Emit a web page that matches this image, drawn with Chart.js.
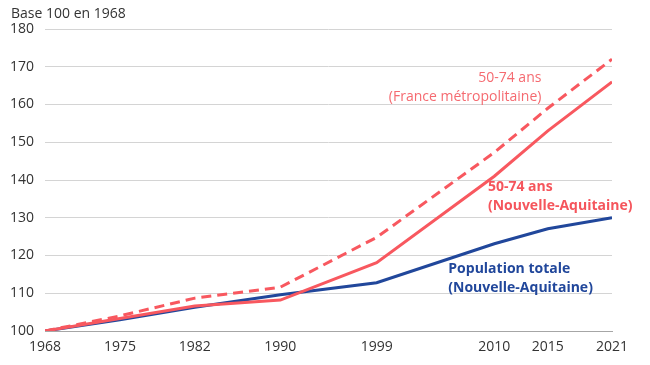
<!DOCTYPE html>
<html>
<head>
<meta charset="utf-8">
<script src="https://cdn.jsdelivr.net/npm/chart.js@4.4.1/dist/chart.umd.min.js"></script>
<style>
html,body{margin:0;padding:0;background:#fff;}
#wrap{width:650px;height:365px;position:relative;}
</style>
</head>
<body>
<div id="wrap"><canvas id="c" width="650" height="365"></canvas></div>
<script>
const years = [1968, 1975, 1982, 1990, 1999, 2010, 2015, 2021];
const popTotaleNA = [100, 103, 106.3, 109.6, 112.8, 123.1, 127.1, 130];
const age5074NA = [100, 103.3, 106.6, 108.2, 118.1, 141, 153, 166];
const age5074France = [100, 104, 108.7, 111.6, 124.8, 147.3, 159, 172];
const yTicks = [100, 110, 120, 130, 140, 150, 160, 170, 180];
const yTitle = 'Base 100 en 1968';
const annotations = [
  {x: 2014.4, y: 167.1, lines: ['50-74 ans', '(France métropolitaine)'], color: '#F56A70', bold: false, align: 'right'},
  {x: 2009.4, y: 138.2, lines: ['50-74 ans', '(Nouvelle-Aquitaine)'], color: '#F5555C', bold: true, align: 'left'},
  {x: 2005.7, y: 116.4, lines: ['Population totale', '(Nouvelle-Aquitaine)'], color: '#21479B', bold: true, align: 'left'}
];

const FONT = "'Open Sans', 'Noto Sans', sans-serif";

const labelPlugin = {
  id: 'labels',
  afterDraw(chart) {
    const ctx = chart.ctx;
    const xs = chart.scales.x, ys = chart.scales.y;
    ctx.save();
    ctx.font = '14px ' + FONT;
    ctx.fillStyle = '#333';
    ctx.textAlign = 'left';
    ctx.textBaseline = 'middle';
    ctx.fillText(yTitle, 11, 14);
    annotations.forEach(a => {
      ctx.font = (a.bold ? 'bold ' : '') + '14px ' + FONT;
      ctx.fillStyle = a.color;
      ctx.textAlign = a.align;
      const px = xs.getPixelForValue(a.x);
      const py = ys.getPixelForValue(a.y);
      a.lines.forEach((l, i) => ctx.fillText(l, px, py + i * 19));
    });
    ctx.restore();
  }
};

new Chart(document.getElementById('c'), {
  type: 'line',
  data: {
    datasets: [
      {data: years.map((y, i) => ({x: y, y: age5074France[i]})), borderColor: '#F8585F', borderWidth: 3, borderDash: [10, 6], pointRadius: 0, tension: 0},
      {data: years.map((y, i) => ({x: y, y: age5074NA[i]})), borderColor: '#F8585F', borderWidth: 3, pointRadius: 0, tension: 0},
      {data: years.map((y, i) => ({x: y, y: popTotaleNA[i]})), borderColor: '#21479B', borderWidth: 3, pointRadius: 0, tension: 0}
    ]
  },
  options: {
    responsive: false,
    animation: false,
    layout: {padding: {top: 29, right: 38, left: 0, bottom: 0}},
    plugins: {legend: {display: false}, tooltip: {enabled: false}},
    scales: {
      x: {
        type: 'linear', min: 1968, max: 2021,
        afterBuildTicks(s) { s.ticks = years.map(v => ({value: v})); },
        afterFit(s) { s.height = 34; },
        ticks: {color: '#333', font: {family: FONT, size: 14}, padding: 8, maxRotation: 0, autoSkip: false, callback: v => String(v)},
        grid: {display: false, drawTicks: false},
        border: {display: true, color: '#a6a6a6', width: 1}
      },
      y: {
        min: 100, max: 180,
        afterBuildTicks(s) { s.ticks = yTicks.map(v => ({value: v})); },
        afterFit(s) { s.width = 45; },
        ticks: {color: '#333', font: {family: FONT, size: 14}, padding: 11},
        grid: {color: ctx => ctx.tick && ctx.tick.value === 100 ? '#a6a6a6' : '#d4d4d4', lineWidth: 1, drawTicks: false},
        border: {display: false}
      }
    }
  },
  plugins: [labelPlugin]
});
</script>
</body>
</html>
